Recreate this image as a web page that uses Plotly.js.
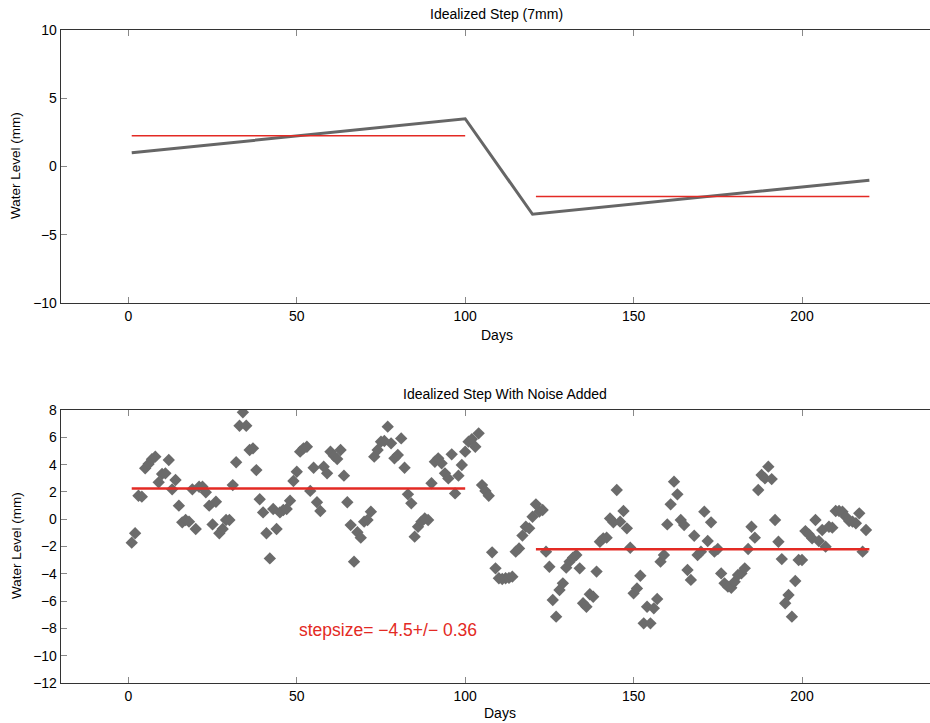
<!DOCTYPE html>
<html>
<head>
<meta charset="utf-8">
<script src="https://cdn.plot.ly/plotly-3.0.1.min.js"></script>
<style>html,body{margin:0;padding:0;background:#fff;}#chart{width:930px;height:723px;}</style>
</head>
<body>
<div id="chart"></div>
<script>
// Top panel: idealized step
const stepDays = [1, 100, 120, 220];
const stepLevels = [1.0, 3.5, -3.5, -1.0];
const fitBeforeDays = [1, 100];
const fitBeforeLevel = [2.25, 2.25];
const fitAfterDays = [121, 220];
const fitAfterLevel = [-2.2, -2.2];

// Bottom panel: idealized step with noise (one value per day, days 1..220)
const noisyLevels = [
  -1.72, -1.03, 1.72, 1.65, 3.73, 4.04, 4.39, 4.58, 2.70, 3.31,
  3.36, 4.34, 2.19, 2.87, 0.99, -0.23, -0.06, -0.18, 2.19, -0.72,
  2.38, 2.38, 1.97, 0.99, -0.38, 1.28, -1.03, -0.72, -0.06, -0.06,
  2.50, 4.17, 6.85, 7.83, 6.85, 5.07, 5.19, 3.60, 1.46, 0.50,
  -1.03, -2.87, 0.75, -0.72, 0.50, 0.67, 0.75, 1.36, 2.80, 3.48,
  4.95, 5.19, 5.31, 2.07, 3.77, 1.24, 0.60, 3.85, 3.36, 4.95,
  4.65, 4.41, 5.07, 3.19, 1.24, -0.43, -3.11, -0.96, -1.35, -0.18,
  -0.06, 0.55, 4.58, 5.07, 5.68, 5.73, 6.78, 5.56, 4.46, 4.70,
  5.92, 3.77, 1.82, 1.16, -1.28, -0.55, -0.18, 0.06, -0.06, 2.63,
  4.21, 4.46, 4.09, 3.36, 2.99, 4.75, 1.89, 3.19, 3.97, 4.95,
  5.68, 5.87, 5.31, 6.29, 2.50, 2.07, 1.72, -2.43, -3.60, -4.33,
  -4.38, -4.33, -4.30, -4.21, -2.38, -2.14, -1.20, -0.55, -0.67, 0.18,
  1.09, 0.55, 0.67, -2.38, -3.48, -5.92, -7.14, -5.19, -4.70, -3.55,
  -3.11, -2.82, -2.62, -3.60, -6.16, -6.41, -5.50, -5.68, -3.84, -1.65,
  -1.40, -1.35, 0.06, -0.23, 2.14, -0.18, 0.60, -0.67, -2.09, -5.43,
  -5.07, -4.14, -7.63, -6.41, -7.63, -6.53, -5.85, -3.11, -2.62, -0.38,
  1.09, 2.75, 1.82, -0.06, -0.43, -3.72, -4.45, -1.21, -2.62, -2.38,
  0.55, -1.60, -0.23, -2.38, -2.18, -3.97, -4.70, -4.94, -5.02, -4.58,
  -4.09, -3.97, -3.60, -2.18, -0.55, -1.35, 2.14, 3.24, 2.99, 3.85,
  2.94, -0.06, -1.65, -2.92, -6.16, -5.55, -7.14, -4.53, -2.99, -2.99,
  -0.87, -1.11, -1.40, -0.06, -1.60, -0.79, -2.01, -0.55, -0.62, 0.60,
  0.60, 0.55, 0.18, -0.13, -0.18, -0.30, 0.43, -2.38, -0.79
];
const noisyDays = noisyLevels.map((_, i) => i + 1);
const noisyFitBeforeLevel = [2.25, 2.25];
const noisyFitAfterLevel = [-2.2, -2.2];
const stepsizeText = 'stepsize= \u22124.5+/\u2212 0.36';

const RED = '#e32a24';
const GRAY = '#666666';
const FONT = 'Liberation Sans, Arial, Helvetica, sans-serif';

const traces = [
  {x: stepDays, y: stepLevels, xaxis: 'x', yaxis: 'y', mode: 'lines',
   line: {color: GRAY, width: 3}},
  {x: fitBeforeDays, y: fitBeforeLevel, xaxis: 'x', yaxis: 'y', mode: 'lines',
   line: {color: RED, width: 1.5}},
  {x: fitAfterDays, y: fitAfterLevel, xaxis: 'x', yaxis: 'y', mode: 'lines',
   line: {color: RED, width: 1.5}},
  {x: noisyDays, y: noisyLevels, xaxis: 'x2', yaxis: 'y2', mode: 'markers',
   marker: {symbol: 'diamond', size: 9.5, color: '#6b6b6b'}},
  {x: fitBeforeDays, y: noisyFitBeforeLevel, xaxis: 'x2', yaxis: 'y2', mode: 'lines',
   line: {color: RED, width: 2.5}},
  {x: fitAfterDays, y: noisyFitAfterLevel, xaxis: 'x2', yaxis: 'y2', mode: 'lines',
   line: {color: RED, width: 2.5}}
];

const xCommon = {
  range: [-20, 238], tickvals: [0, 50, 100, 150, 200],
  ticks: 'inside', ticklen: 6, tickcolor: '#888', showline: true,
  linecolor: '#333', linewidth: 1.3, mirror: 'ticks',
  showgrid: false, zeroline: false, domain: [61/930, 1],
  tickfont: {size: 14}
};
const yCommon = {
  ticks: 'inside', ticklen: 6, tickcolor: '#888', showline: true,
  linecolor: '#333', linewidth: 1.3, mirror: false,
  showgrid: false, zeroline: false, tickfont: {size: 14}
};

const layout = {
  width: 930, height: 723,
  margin: {l: 0, r: 0, t: 0, b: 0},
  paper_bgcolor: '#fff', plot_bgcolor: '#fff',
  showlegend: false,
  font: {family: FONT, color: '#000', size: 14},
  xaxis: Object.assign({}, xCommon, {anchor: 'y'}),
  yaxis: Object.assign({}, yCommon, {anchor: 'x', range: [-10, 10], tickvals: [-10, -5, 0, 5, 10],
    domain: [1 - 303/723, 1 - 30/723]}),
  xaxis2: Object.assign({}, xCommon, {anchor: 'y2'}),
  yaxis2: Object.assign({}, yCommon, {anchor: 'x2', range: [-12, 8], tickvals: [-12, -10, -8, -6, -4, -2, 0, 2, 4, 6, 8],
    domain: [1 - 683/723, 1 - 410/723]}),
  annotations: [
    {text: 'Idealized Step (7mm)', xref: 'paper', yref: 'paper', x: 496/930, y: 1 - 14/723,
     showarrow: false, font: {size: 14}, xanchor: 'center', yanchor: 'middle'},
    {text: 'Days', xref: 'paper', yref: 'paper', x: 497/930, y: 1 - 335/723,
     showarrow: false, font: {size: 14}, xanchor: 'center', yanchor: 'middle'},
    {text: 'Water Level (mm)', xref: 'paper', yref: 'paper', x: 16/930, y: 1 - 166/723,
     showarrow: false, font: {size: 13.5}, textangle: -90, xanchor: 'center', yanchor: 'middle'},
    {text: 'Idealized Step With Noise Added', xref: 'paper', yref: 'paper', x: 505/930, y: 1 - 394/723,
     showarrow: false, font: {size: 14}, xanchor: 'center', yanchor: 'middle'},
    {text: 'Days', xref: 'paper', yref: 'paper', x: 500/930, y: 1 - 713/723,
     showarrow: false, font: {size: 14}, xanchor: 'center', yanchor: 'middle'},
    {text: 'Water Level (mm)', xref: 'paper', yref: 'paper', x: 16/930, y: 1 - 546/723,
     showarrow: false, font: {size: 13.5}, textangle: -90, xanchor: 'center', yanchor: 'middle'},
    {text: stepsizeText, xref: 'x2', yref: 'y2', x: 50, y: -8.1,
     showarrow: false, font: {size: 17.5, color: RED}, xanchor: 'left', yanchor: 'middle'}
  ]
};

Plotly.newPlot('chart', traces, layout, {displayModeBar: false, staticPlot: true});
</script>
</body>
</html>
